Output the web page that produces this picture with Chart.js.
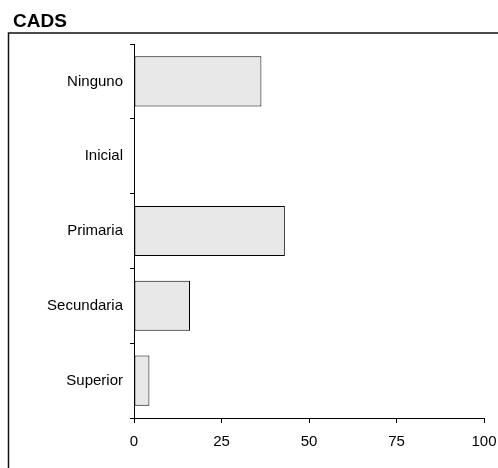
<!DOCTYPE html>
<html>
<head>
<meta charset="utf-8">
<script src="https://cdn.jsdelivr.net/npm/chart.js@4.4.0/dist/chart.umd.min.js"></script>
<style>
  html, body { margin: 0; padding: 0; background: #fff; }
  #wrap { position: relative; width: 498px; height: 468px; }
</style>
</head>
<body>
<div id="wrap"><canvas id="chart" width="498" height="468"></canvas></div>
<script>
// Data
const categories = ['Ninguno', 'Inicial', 'Primaria', 'Secundaria', 'Superior'];
const values = [36.4, 0, 43.1, 16.0, 4.4];
const xTicks = [0, 25, 50, 75, 100];

// Title + open frame drawn behind the chart
const framePlugin = {
  id: 'frame',
  beforeDraw(chart) {
    const c = chart.ctx;
    c.save();
    c.fillStyle = '#000';
    c.font = 'bold 19px "Liberation Sans", Arial, sans-serif';
    c.textBaseline = 'alphabetic';
    c.fillText('CADS', 13, 27);
    c.strokeStyle = '#111';
    c.lineWidth = 1.5;
    c.beginPath();
    c.moveTo(498, 33);
    c.lineTo(8.5, 33);
    c.lineTo(8.5, 468);
    c.stroke();
    c.restore();
  }
};

const font = { family: '"Liberation Sans", Arial, sans-serif', size: 15 };

new Chart(document.getElementById('chart'), {
  type: 'bar',
  data: {
    labels: categories,
    datasets: [{
      data: values,
      backgroundColor: '#e8e8e8',
      borderColor: '#000',
      borderWidth: 1,
      borderSkipped: false,
      barPercentage: 0.67,
      categoryPercentage: 1
    }]
  },
  options: {
    indexAxis: 'y',
    responsive: false,
    animation: false,
    layout: { padding: { top: 44, right: 14, bottom: 0, left: 0 } },
    plugins: {
      legend: { display: false },
      tooltip: { enabled: false }
    },
    scales: {
      x: {
        min: 0,
        max: 100,
        afterFit: s => { s.height = 50; s.paddingLeft = 0; s.paddingRight = 0; },
        afterBuildTicks: s => { s.ticks = xTicks.map(v => ({ value: v })); },
        grid: { drawOnChartArea: false, drawTicks: true, tickLength: 5, color: '#000' },
        border: { display: true, color: '#000', width: 1 },
        ticks: { color: '#000', font: font, padding: 10, maxRotation: 0 }
      },
      y: {
        afterFit: s => { s.width = 134; s.paddingTop = 0; s.paddingBottom = 0; },
        grid: { offset: true, drawOnChartArea: false, drawTicks: true, tickLength: 4, color: '#000' },
        border: { display: true, color: '#000', width: 1 },
        ticks: { color: '#000', font: font, padding: 7 }
      }
    }
  },
  plugins: [framePlugin]
});
</script>
</body>
</html>
